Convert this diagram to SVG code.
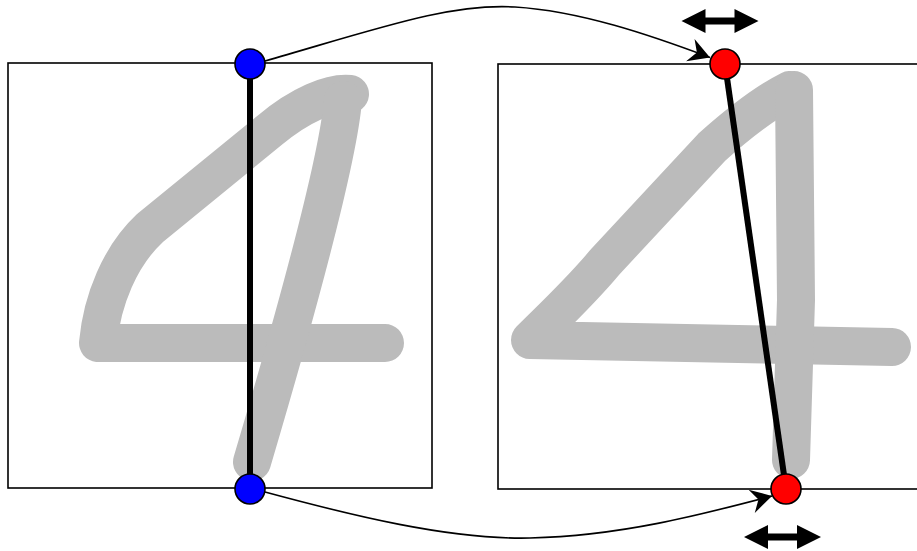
<svg xmlns="http://www.w3.org/2000/svg" width="917" height="551" viewBox="0 0 917 551">
<style>
.box{fill:#fff;stroke:#000;stroke-width:1.6}
.digit{fill:none;stroke:#bbbbbb;stroke-width:38;stroke-linecap:round;stroke-linejoin:round}
.bar{fill:none;stroke:#000;stroke-width:6}
.conn{fill:none;stroke:#000;stroke-width:1.6}
.blue{fill:#0000ff;stroke:#000;stroke-width:1.6}
.red{fill:#ff0000;stroke:#000;stroke-width:1.6}
</style>
<defs>
<marker id="ah" markerUnits="userSpaceOnUse" markerWidth="30" markerHeight="30" viewBox="-24 -15 30 30" refX="0" refY="0" orient="auto">
<path d="M0,0 L-21,-12 L-14,0 L-21,12 Z" fill="#000"/>
</marker>
<path id="dbl" d="M-38.5,0 L-14.5,-12 L-14.5,-3.6 L14.5,-3.6 L14.5,-12 L38.5,0 L14.5,12 L14.5,3.6 L-14.5,3.6 L-14.5,12 Z" fill="#000"/>
</defs>

<g id="left-panel">
<rect class="box" x="8" y="63" width="424" height="425"/>
<path class="digit" d="M350,94 C330,92 300,105 270,130 L150,228 C120,256 102,300 98,343 L385,343"/>
<path class="digit" d="M343,100 C338,160 300,300 252,462"/>
<line class="bar" x1="250" y1="63" x2="250" y2="489"/>
</g>

<g id="right-panel">
<rect class="box" x="498" y="64" width="430" height="425"/>
<path class="digit" d="M790,90 C770,100 740,122 712,147 L605,262 C580,292 552,318 530,340 L892,347"/>
<path class="digit" d="M794,90 L796,300 L791,460"/>
<line class="bar" x1="725" y1="64" x2="786" y2="489"/>
</g>

<g id="connectors">
<path class="conn" d="M265,61 C380,28 450,3 515,7 C580,11 650,35 710,57.5" marker-end="url(#ah)"/>
<path class="conn" d="M265,492 C350,515 450,540 530,538 C620,536 700,515 772,496" marker-end="url(#ah)"/>
</g>

<g id="blue-top"><circle class="blue" cx="250" cy="64" r="15"/></g>
<g id="blue-bottom"><circle class="blue" cx="250" cy="489" r="15"/></g>
<g id="red-top"><circle class="red" cx="725" cy="64" r="15"/></g>
<g id="red-bottom"><circle class="red" cx="786" cy="489" r="15"/></g>

<g id="shift-top"><use href="#dbl" x="720" y="21"/></g>
<g id="shift-bottom"><use href="#dbl" x="782.5" y="537"/></g>
</svg>
